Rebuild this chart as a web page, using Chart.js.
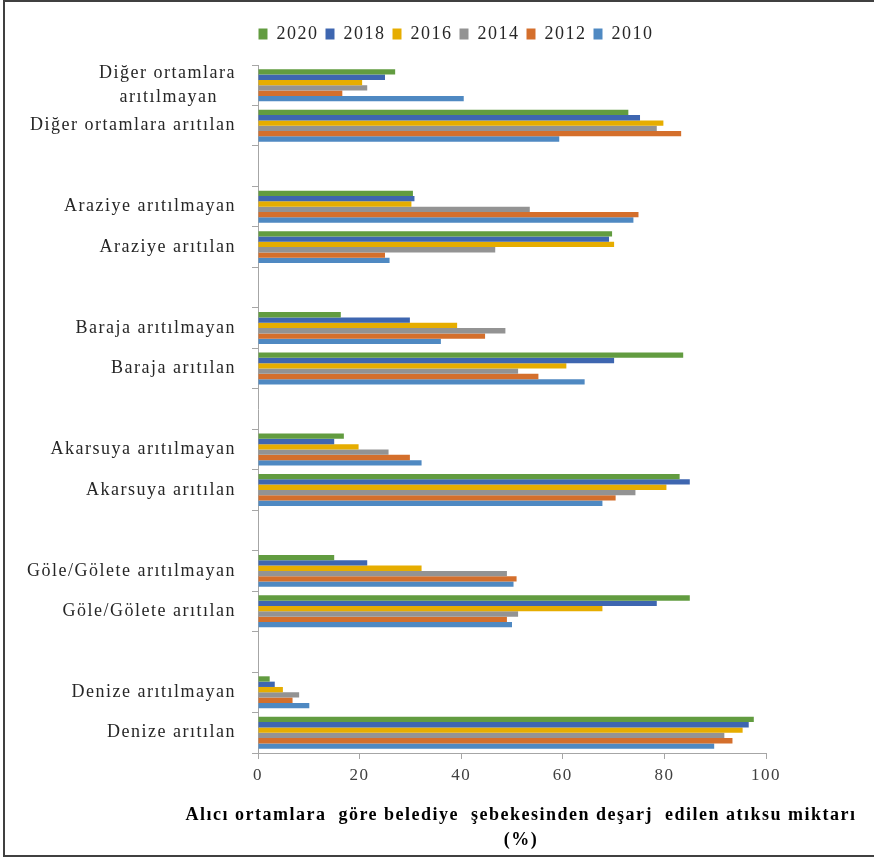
<!DOCTYPE html>
<html>
<head>
<meta charset="utf-8">
<script src="https://cdn.jsdelivr.net/npm/chart.js@4.4.1/dist/chart.umd.min.js"></script>
<style>
  html, body { margin: 0; padding: 0; background: #fff; }
  #wrap { position: relative; width: 874px; height: 858px; overflow: hidden; }
  #frame { position: absolute; left: 3px; top: 0; width: 880px; height: 857px;
           border: 2px solid #404040; box-sizing: border-box; pointer-events: none; }
  canvas { display: block; }
</style>
</head>
<body>
<div id="wrap">
  <canvas id="chart" width="874" height="858"></canvas>
  <div id="frame"></div>
</div>
<script>
// Receiving environments, top to bottom (treated / untreated pairs)
const categories = [
  ['Diğer ortamlara', 'arıtılmayan   '],
  'Diğer ortamlara arıtılan',
  'Araziye arıtılmayan',
  'Araziye arıtılan',
  'Baraja arıtılmayan',
  'Baraja arıtılan',
  'Akarsuya arıtılmayan',
  'Akarsuya arıtılan',
  'Göle/Gölete arıtılmayan',
  'Göle/Gölete arıtılan',
  'Denize arıtılmayan',
  'Denize arıtılan'
];

const years = ['2020', '2018', '2016', '2014', '2012', '2010'];

// Share of municipal wastewater (%) per year, same order as categories
const v2020 = [27.0, 72.9, 30.5, 69.7, 16.3, 83.7, 16.9, 83.0, 15.0, 85.0, 2.3, 97.6];
const v2018 = [25.0, 75.2, 30.8, 69.1, 29.9, 70.1, 15.0, 85.0, 21.5, 78.5, 3.3, 96.6];
const v2016 = [20.5, 79.8, 30.2, 70.1, 39.2, 60.7, 19.8, 80.4, 32.2, 67.8, 4.9, 95.4];
const v2014 = [21.5, 78.5, 53.5, 46.7, 48.7, 51.2, 25.7, 74.3, 49.0, 51.2, 8.1, 91.8];
const v2012 = [16.6, 83.3, 74.9, 25.0, 44.7, 55.2, 29.9, 70.4, 50.9, 49.0, 6.8, 93.4];
const v2010 = [40.5, 59.3, 73.9, 25.9, 36.0, 64.3, 32.2, 67.8, 50.3, 50.0, 10.1, 89.8];

const xTicks = [0, 20, 40, 60, 80, 100];
const axisTitle = ['Alıcı ortamlara  göre belediye  şebekesinden deşarj  edilen atıksu miktarı', '(%)'];

const seriesValues = [v2020, v2018, v2016, v2014, v2012, v2010];
const seriesColors = ['#629c40', '#3e66b0', '#e6ad00', '#939393', '#d46f2c', '#4f89c2'];

// An empty slot separates each treated/untreated pair
function withGaps(arr, blank) {
  const out = [];
  arr.forEach((v, i) => {
    out.push(v);
    if (i % 2 === 1 && i < arr.length - 1) out.push(blank);
  });
  return out;
}

const labels = withGaps(categories, '');
const datasets = years.map((y, i) => ({
  label: y,
  data: withGaps(seriesValues[i], null),
  backgroundColor: seriesColors[i],
  borderWidth: 0
}));

const FONT = 'Liberation Serif, Times New Roman, serif';
const AXIS = '#a6a6a6';
const PAD_LEFT = 10;
const PAD_RIGHT = 108;
const LEGEND_HEIGHT = 47;
const LEGEND_SHIFT = 68;
const TITLE_SHIFT = 133;

// Wider letter spacing for all chart text, a taller legend band,
// and the legend / bottom title nudged right to sit over the plot
const layoutTweaks = {
  id: 'layoutTweaks',
  beforeLayout(chart) {
    chart.ctx.letterSpacing = '1.5px';
    const lg = chart.legend;
    if (lg && !lg._tallFit) {
      const baseFit = lg.fit;
      lg.fit = function () { baseFit.call(this); this.height = LEGEND_HEIGHT; };
      lg._tallFit = true;
    }
  },
  afterLayout(chart) {
    const lg = chart.legend;
    if (lg) { lg.left += LEGEND_SHIFT; lg.right += LEGEND_SHIFT; }
    const tb = chart.titleBlock;
    if (tb) { tb.left += TITLE_SHIFT; tb.right += TITLE_SHIFT; }
  },
  beforeDraw(chart) {
    chart.ctx.letterSpacing = '1.5px';
  }
};

new Chart(document.getElementById('chart'), {
  type: 'bar',
  data: { labels, datasets },
  plugins: [layoutTweaks],
  options: {
    indexAxis: 'y',
    responsive: false,
    animation: false,
    devicePixelRatio: 1,
    layout: { padding: { left: PAD_LEFT, right: PAD_RIGHT, top: 18, bottom: 0 } },
    datasets: { bar: { categoryPercentage: 0.79, barPercentage: 1 } },
    plugins: {
      legend: {
        position: 'top',
        align: 'center',
        labels: {
          boxWidth: 9, boxHeight: 11, padding: 7,
          color: '#262626',
          font: { family: FONT, size: 18 }
        }
      },
      title: {
        display: true,
        position: 'bottom',
        text: axisTitle,
        color: '#000',
        font: { family: FONT, size: 18, weight: 'bold', lineHeight: 25 / 18 },
        padding: { top: 0, bottom: 5 }
      },
      tooltip: { enabled: false }
    },
    scales: {
      x: {
        min: 0, max: 100,
        afterBuildTicks(s) { s.ticks = xTicks.map(v => ({ value: v })); },
        ticks: { color: '#404040', padding: 6, font: { family: FONT, size: 17 } },
        grid: { drawOnChartArea: false, drawTicks: true, tickLength: 6, color: AXIS },
        border: { color: AXIS },
        afterFit(s) { s.height = 50; }
      },
      y: {
        ticks: {
          autoSkip: false,
          color: '#262626', padding: 16,
          font: { family: FONT, size: 18, lineHeight: 24 / 18 }
        },
        grid: { drawOnChartArea: false, offset: true, drawTicks: true, tickLength: 6, color: AXIS },
        border: { color: AXIS },
        afterFit(s) { s.width = 258 - PAD_LEFT; }
      }
    }
  }
});
</script>
</body>
</html>
